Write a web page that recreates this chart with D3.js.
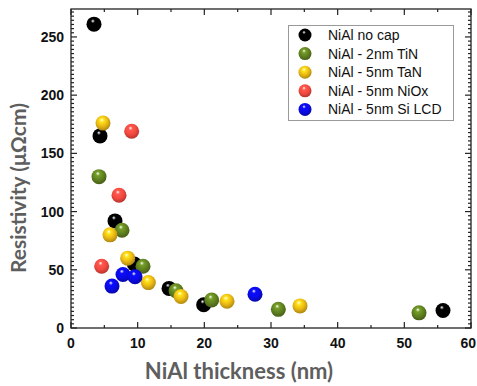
<!DOCTYPE html>
<html>
<head>
<meta charset="utf-8">
<script src="https://cdn.jsdelivr.net/npm/d3@7"></script>
<style>
  body { margin: 0; background: #fff; }
  svg { display: block; }
  .tick-label { font-family: "Liberation Sans", Arial, sans-serif; font-weight: bold; font-size: 14px; fill: #111; }
  .axis-title { font-family: Lato, "Open Sans", sans-serif; font-weight: bold; fill: #5e5e5e; }
  .legend-text { font-family: "Liberation Sans", Arial, sans-serif; font-size: 14px; fill: #111; }
</style>
</head>
<body>
<script>
// series names and colours
const seriesNames = ['NiAl no cap', 'NiAl - 2nm TiN', 'NiAl - 5nm TaN', 'NiAl - 5nm NiOx', 'NiAl - 5nm Si LCD'];
const seriesColors = ['#000000', '#5f8020', '#e9b714', '#f2483f', '#0a0ae6'];

// thickness (nm) / resistivity (µΩcm) per series
const noCapX = [3.45, 4.35, 6.6, 9.5, 14.7, 19.9, 55.8];
const noCapY = [261, 165, 92, 55, 34, 20, 15];
const tinX = [4.2, 7.65, 10.8, 15.75, 21.1, 31.1, 52.2];
const tinY = [130, 84, 53, 32, 24, 16, 13];
const tanX = [4.8, 5.85, 8.5, 11.6, 16.5, 23.4, 34.35];
const tanY = [176, 80, 60, 39, 27, 23, 19];
const nioxX = [7.2, 4.6, 9.1];
const nioxY = [114, 53, 169];
const siX = [6.15, 7.8, 9.6, 27.6];
const siY = [36, 46, 44, 29];

const xTicks = [0, 10, 20, 30, 40, 50, 60];
const yTicks = [0, 50, 100, 150, 200, 250];

const W = 477, H = 386;
const m = { left: 71, right: 6, top: 9, bottom: 58 };

const svg = d3.select('body').append('svg')
    .attr('width', W).attr('height', H);

const x = d3.scaleLinear().domain([0, 60]).range([m.left, W - m.right]);
const y = d3.scaleLinear().domain([0, 274]).range([H - m.bottom, m.top]);

const defs = svg.append('defs');
seriesColors.forEach((c, i) => {
    const g = defs.append('radialGradient')
        .attr('id', 'ball' + i)
        .attr('cx', '45%').attr('cy', '40%').attr('r', '62%')
        .attr('fx', '42%').attr('fy', '28%');
    const base = d3.color(c);
    g.append('stop').attr('offset', '0%').attr('stop-color', '#ffffff');
    g.append('stop').attr('offset', '22%').attr('stop-color', base.brighter(0.6));
    g.append('stop').attr('offset', '60%').attr('stop-color', base);
    g.append('stop').attr('offset', '100%').attr('stop-color', base.darker(0.9));
});

// frame
const x0 = x(0), x1 = x(60), y0 = y(0), y1 = y(274);
svg.append('rect')
    .attr('x', x0).attr('y', y1).attr('width', x1 - x0).attr('height', y0 - y1)
    .attr('fill', 'none').attr('stroke', '#222').attr('stroke-width', 1.3);

// x ticks (inside, bottom and top)
const xMinor = d3.range(5, 60, 10);
const ticks = svg.append('g').attr('stroke', '#222').attr('stroke-width', 1.2);
xTicks.forEach(v => {
    ticks.append('line').attr('x1', x(v)).attr('x2', x(v)).attr('y1', y0).attr('y2', y0 - 6);
    ticks.append('line').attr('x1', x(v)).attr('x2', x(v)).attr('y1', y1).attr('y2', y1 + 6);
});
xMinor.forEach(v => {
    ticks.append('line').attr('x1', x(v)).attr('x2', x(v)).attr('y1', y0).attr('y2', y0 - 3);
    ticks.append('line').attr('x1', x(v)).attr('x2', x(v)).attr('y1', y1).attr('y2', y1 + 3);
});

// y ticks (inside, left and right)
const yMinor = d3.range(0, 274, 50 / 14).filter(v => Math.abs(v / 50 - Math.round(v / 50)) > 0.01);
yTicks.forEach(v => {
    ticks.append('line').attr('x1', x0).attr('x2', x0 + 6).attr('y1', y(v)).attr('y2', y(v));
    ticks.append('line').attr('x1', x1).attr('x2', x1 - 6).attr('y1', y(v)).attr('y2', y(v));
});
yMinor.forEach(v => {
    ticks.append('line').attr('x1', x0).attr('x2', x0 + 3).attr('y1', y(v)).attr('y2', y(v));
    ticks.append('line').attr('x1', x1).attr('x2', x1 - 3).attr('y1', y(v)).attr('y2', y(v));
});

// tick labels (last one kept inside the page edge)
svg.append('g').selectAll('text').data(xTicks).join('text')
    .attr('class', 'tick-label')
    .attr('x', d => d === 60 ? W - 1 : x(d)).attr('y', y0 + 20)
    .attr('text-anchor', d => d === 60 ? 'end' : 'middle')
    .text(d => d);
svg.append('g').selectAll('text').data(yTicks).join('text')
    .attr('class', 'tick-label')
    .attr('x', x0 - 7).attr('y', d => y(d) + 5)
    .attr('text-anchor', 'end')
    .text(d => d);

// axis titles
svg.append('text').attr('class', 'axis-title')
    .attr('x', 239).attr('y', 379)
    .attr('text-anchor', 'middle')
    .style('font-size', '22px')
    .text('NiAl thickness (nm)');
svg.append('text').attr('class', 'axis-title')
    .attr('transform', 'translate(26,188) rotate(-90)')
    .attr('text-anchor', 'middle')
    .style('font-size', '21px')
    .text('Resistivity (μΩcm)');

// points
const seriesX = [noCapX, tinX, tanX, nioxX, siX];
const seriesY = [noCapY, tinY, tanY, nioxY, siY];
const pts = svg.append('g');
seriesX.forEach((xs, i) => {
    pts.append('g').selectAll('circle')
        .data(xs.map((v, j) => [v, seriesY[i][j]]))
        .join('circle')
        .attr('cx', d => x(d[0])).attr('cy', d => y(d[1]))
        .attr('r', 7.5)
        .attr('fill', `url(#ball${i})`);
});

// legend
const lg = svg.append('g');
lg.append('rect')
    .attr('x', 288.5).attr('y', 25.5).attr('width', 165).attr('height', 95)
    .attr('fill', '#fff').attr('stroke', '#999').attr('stroke-width', 1);
seriesNames.forEach((name, i) => {
    const cy = 35 + i * 18.6;
    lg.append('circle').attr('cx', 305).attr('cy', cy).attr('r', 6.5)
        .attr('fill', `url(#ball${i})`);
    lg.append('text').attr('class', 'legend-text')
        .attr('x', 328).attr('y', cy + 5)
        .text(name);
});
</script>
</body>
</html>
